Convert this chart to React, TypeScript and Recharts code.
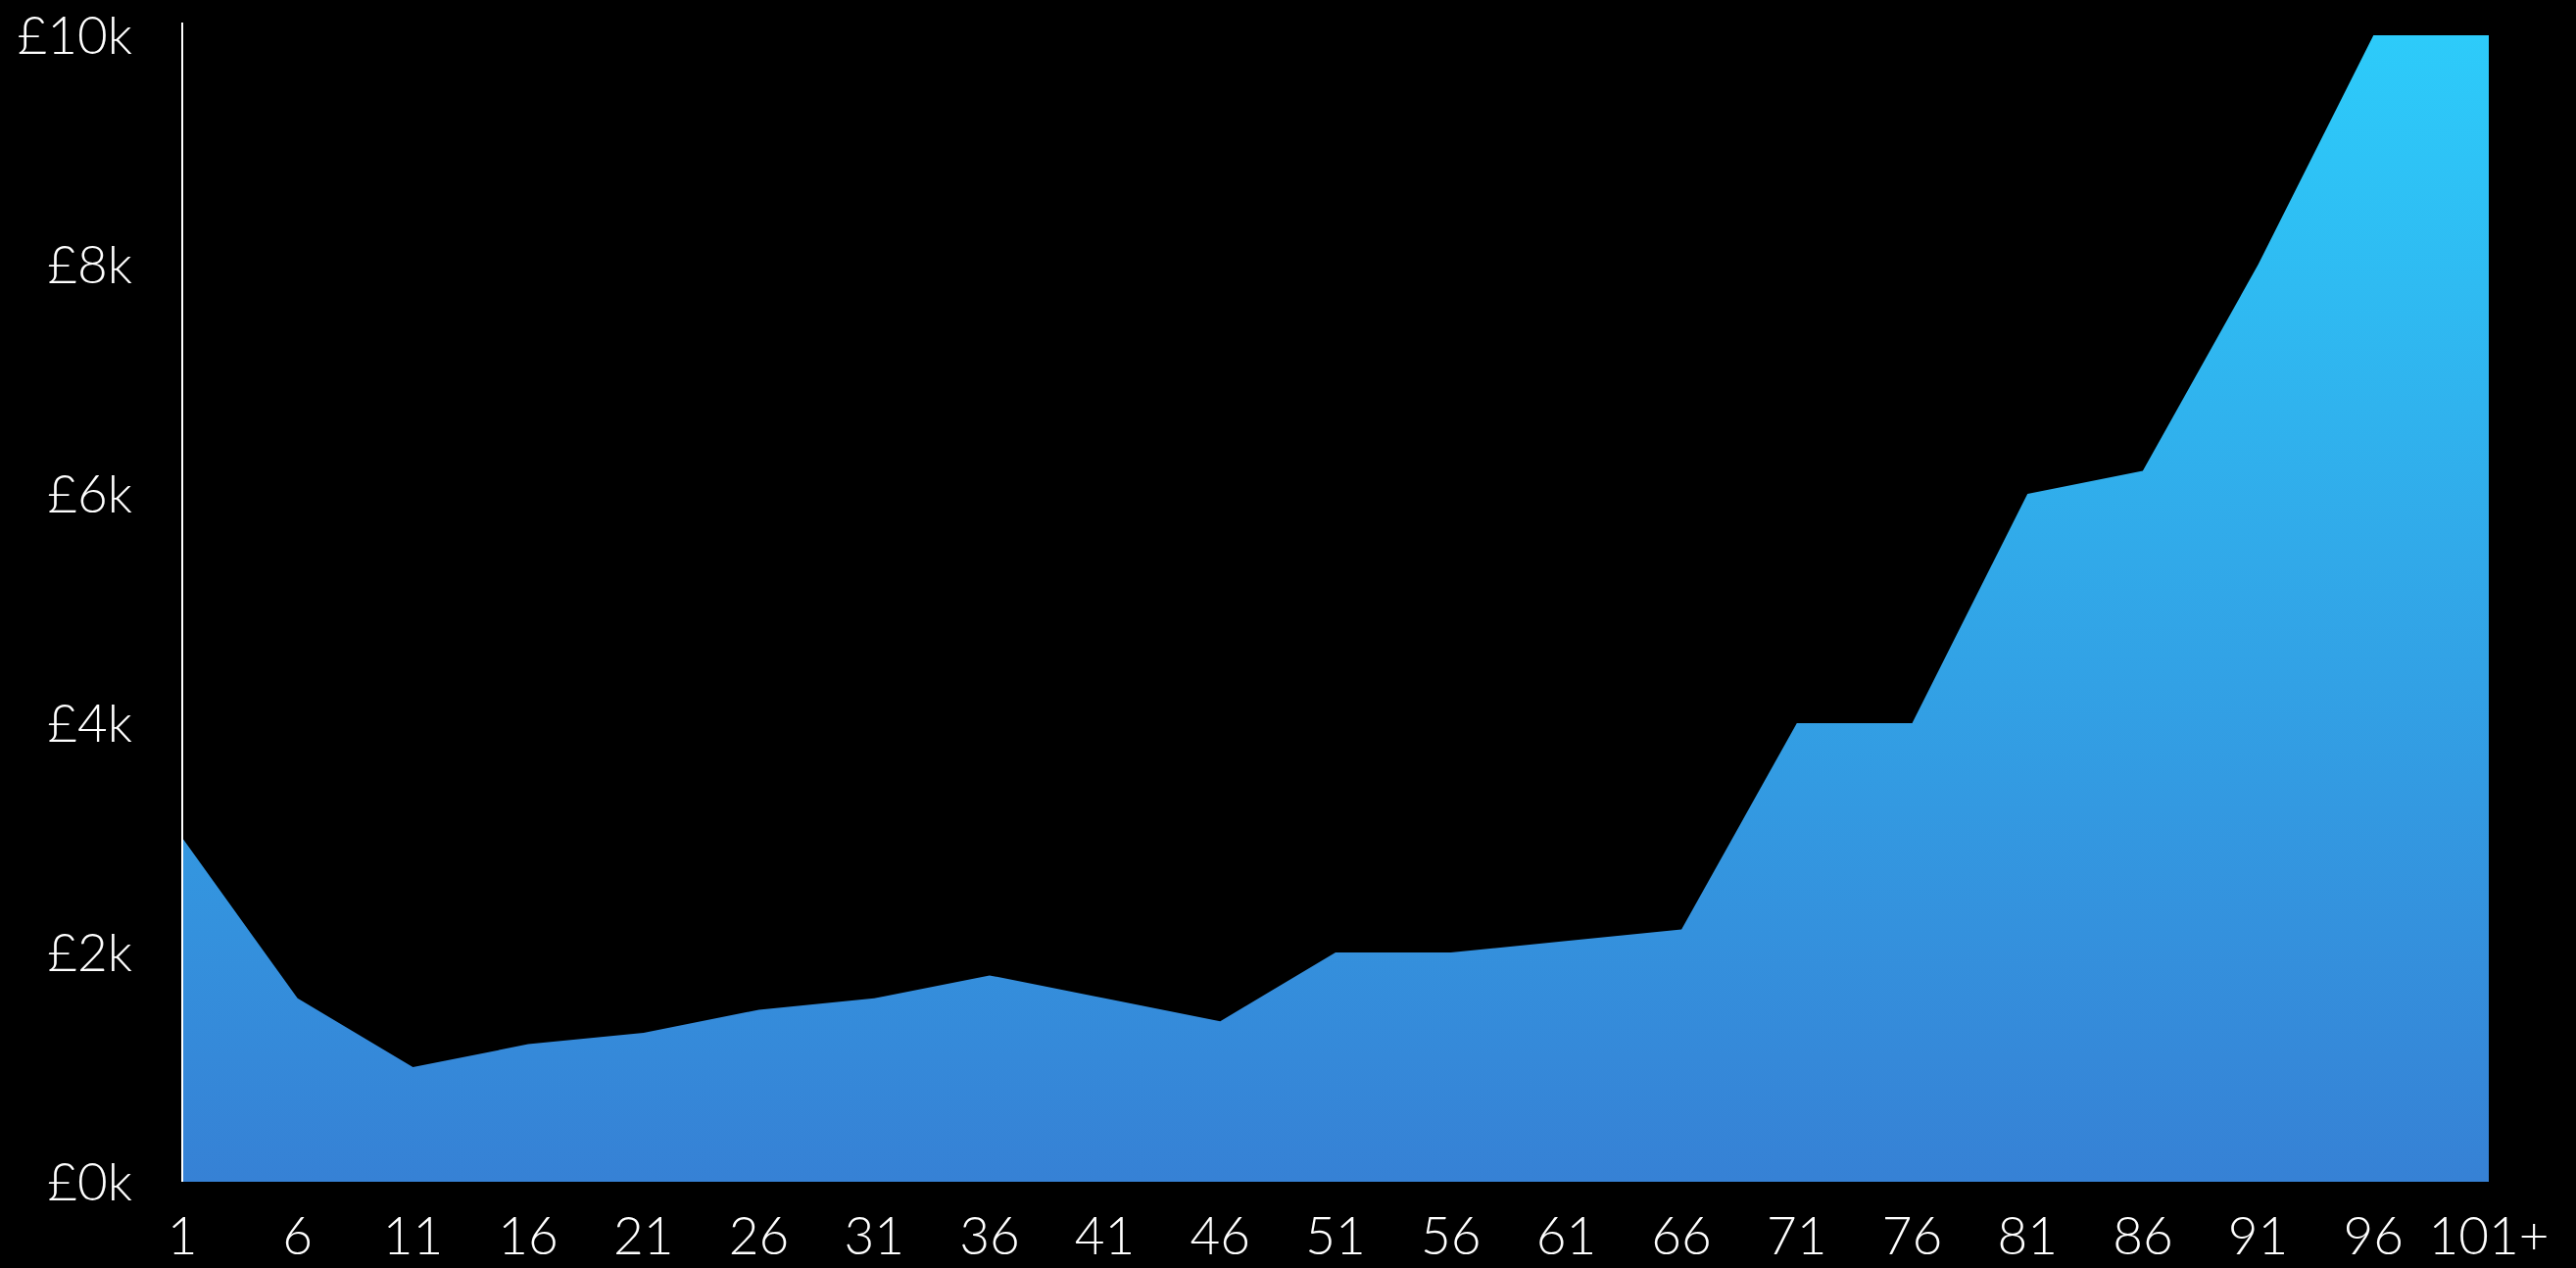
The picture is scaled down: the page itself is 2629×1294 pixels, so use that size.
import { Area, AreaChart, XAxis, YAxis } from "recharts";

const ages = [
  "1", "6", "11", "16", "21", "26", "31", "36", "41", "46", "51",
  "56", "61", "66", "71", "76", "81", "86", "91", "96", "101+",
];
const values = [
  3000, 1600, 1000, 1200, 1300, 1500, 1600, 1800, 1600, 1400, 2000,
  2000, 2100, 2200, 4000, 4000, 6000, 6200, 8000, 10000, 10000,
];
const yTicks = [0, 2000, 4000, 6000, 8000, 10000];

const data = ages.map((age, i) => ({ age, value: values[i] }));

const tickStyle = {
  fill: "#ffffff",
  fontSize: 53,
  fontFamily: "Lato, 'Noto Sans', sans-serif",
  fontWeight: 300,
};

const App = () => {
  return (
    <div
      style={{
        position: "fixed",
        left: 0,
        top: 0,
        width: 2629,
        height: 1294,
        background: "#000000",
      }}
    >
      <AreaChart
        width={2629}
        height={1294}
        data={data}
        margin={{ top: 23, right: 89, left: 0, bottom: 0 }}
      >
        <defs>
          <linearGradient id="fillGrad" x1="0" y1="0" x2="0" y2="1">
            <stop offset="0%" stopColor="#2DCBFA" />
            <stop offset="100%" stopColor="#3681D5" />
          </linearGradient>
        </defs>
        <XAxis
          dataKey="age"
          axisLine={false}
          tickLine={false}
          height={88}
          tickMargin={30}
          tick={tickStyle}
          interval={0}
        />
        <YAxis
          domain={[0, 10000]}
          ticks={yTicks}
          width={186}
          axisLine={{ stroke: "#ffffff", strokeWidth: 2 }}
          tickLine={false}
          tickMargin={45}
          padding={{ top: 13 }}
          tick={tickStyle}
          tickFormatter={(v: number) => `£${v / 1000}k`}
        />
        <Area
          type="linear"
          dataKey="value"
          stroke="none"
          fill="url(#fillGrad)"
          fillOpacity={1}
          isAnimationActive={false}
        />
      </AreaChart>
    </div>
  );
};

export default App;
